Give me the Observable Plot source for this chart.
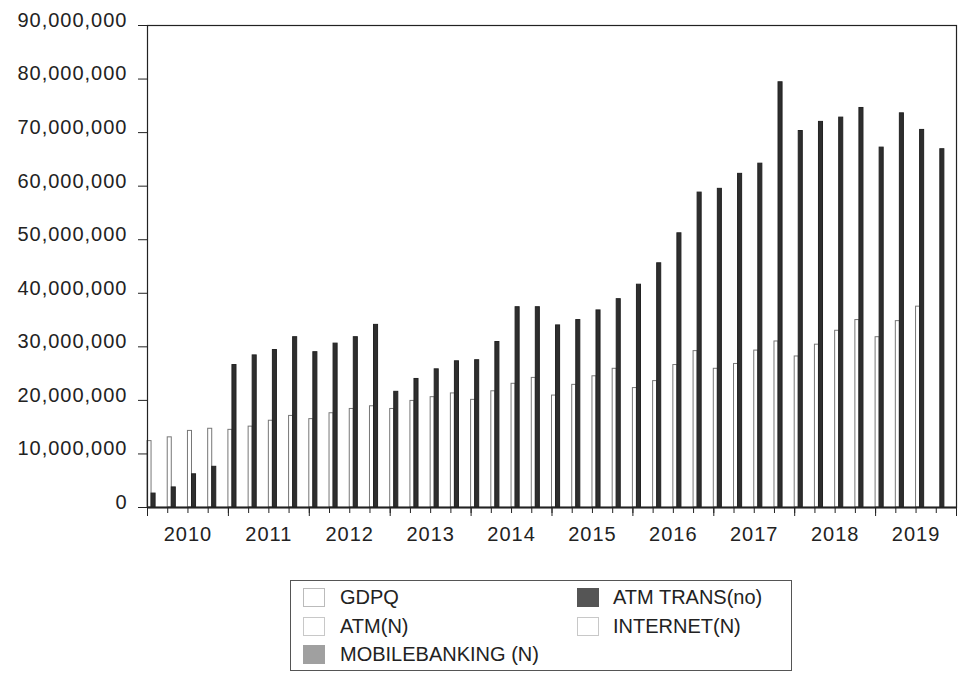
<!DOCTYPE html>
<html>
<head>
<meta charset="utf-8">
<script src="https://cdn.jsdelivr.net/npm/d3@7"></script>
<script src="https://cdn.jsdelivr.net/npm/@observablehq/plot@0.6"></script>
<style>
  html, body { margin: 0; padding: 0; background: #fff; }
  body { width: 960px; height: 678px; position: relative; overflow: hidden; font-family: "Liberation Sans", Arial, sans-serif; color: #222; }
  #chart { position: absolute; left: 0; top: 0; }
  #legend { position: absolute; left: 290px; top: 580px; width: 502px; height: 91px; border: 1px solid #555; box-sizing: border-box; }
  .item { position: absolute; font-size: 20px; line-height: 20px; white-space: nowrap; }
  .sw { position: absolute; width: 22px; height: 19px; box-sizing: border-box; }
</style>
</head>
<body>
<div id="chart"></div>
<div id="legend"></div>
<script>
// ---- data ----
const years = [2010, 2011, 2012, 2013, 2014, 2015, 2016, 2017, 2018, 2019];
const seriesNames = ["GDPQ", "ATM TRANS(no)", "ATM(N)", "INTERNET(N)", "MOBILEBANKING (N)"];
const gdpq = [
  12.4e6, 13.1e6, 14.3e6, 14.7e6,
  14.5e6, 15.1e6, 16.2e6, 17.1e6,
  16.5e6, 17.6e6, 18.4e6, 18.9e6,
  18.4e6, 19.9e6, 20.6e6, 21.3e6,
  20.1e6, 21.7e6, 23.1e6, 24.2e6,
  20.9e6, 22.9e6, 24.5e6, 25.9e6,
  22.3e6, 23.6e6, 26.6e6, 29.2e6,
  25.9e6, 26.8e6, 29.3e6, 31.0e6,
  28.2e6, 30.4e6, 33.0e6, 35.0e6,
  31.8e6, 34.8e6, 37.5e6, null
];
const atmTrans = [
  2.6e6, 3.75e6, 6.2e6, 7.6e6,
  26.6e6, 28.4e6, 29.4e6, 31.8e6,
  29.0e6, 30.6e6, 31.8e6, 34.1e6,
  21.6e6, 24.0e6, 25.8e6, 27.3e6,
  27.5e6, 30.9e6, 37.4e6, 37.4e6,
  34.0e6, 35.0e6, 36.8e6, 38.9e6,
  41.6e6, 45.6e6, 51.2e6, 58.8e6,
  59.5e6, 62.3e6, 64.2e6, 79.4e6,
  70.3e6, 72.0e6, 72.8e6, 74.6e6,
  67.2e6, 73.6e6, 70.5e6, 66.9e6
];
// the three count series are too small to be seen at this scale (read as ~0)
const atmN = [
  0,0,0,0, 0,0,0,0, 0,0,0,0, 0,0,0,0, 0,0,0,0,
  0,0,0,0, 0,0,0,0, 0,0,0,0, 0,0,0,0, 0,0,0,0
];
const internetN = [
  0,0,0,0, 0,0,0,0, 0,0,0,0, 0,0,0,0, 0,0,0,0,
  0,0,0,0, 0,0,0,0, 0,0,0,0, 0,0,0,0, 0,0,0,0
];
const mobileN = [
  0,0,0,0, 0,0,0,0, 0,0,0,0, 0,0,0,0, 0,0,0,0,
  0,0,0,0, 0,0,0,0, 0,0,0,0, 0,0,0,0, 0,0,0,0
];
const yTicks = [0, 10e6, 20e6, 30e6, 40e6, 50e6, 60e6, 70e6, 80e6, 90e6];
const seriesFill = ["#ffffff", "#2e2e2e", "#ffffff", "#ffffff", "#999999"];
const seriesStroke = ["#777777", "#222222", "#bbbbbb", "#bbbbbb", "#888888"];
const legendFill = ["#ffffff", "#555555", "#ffffff", "#ffffff", "#a0a0a0"];
const legendStroke = ["#bbbbbb", "#555555", "#c8c8c8", "#c8c8c8", "#a0a0a0"];

// ---- table ----
const seriesValues = [gdpq, atmTrans, atmN, internetN, mobileN];
const nQ = years.length * 4;
const rows = [];
seriesValues.forEach((arr, k) => arr.forEach((v, i) => {
  if (v != null && v > 0) rows.push({q: i, k, series: seriesNames[k], value: v});
}));

const barMarks = seriesNames.map((name, k) =>
  Plot.rectY(rows.filter(d => d.k === k), {
    x1: d => d.q + d.k / 5,
    x2: d => d.q + (d.k + 1) / 5,
    y1: 0,
    y2: "value",
    fill: seriesFill[k],
    stroke: seriesStroke[k],
    strokeWidth: 1
  })
);

const chart = Plot.plot({
  width: 960,
  height: 560,
  marginLeft: 147,
  marginRight: 4,
  marginTop: 25,
  marginBottom: 53,
  style: {fontFamily: "'Liberation Sans', Arial, sans-serif", fontSize: "20px", color: "#222", letterSpacing: "1px", background: "#fff"},
  x: {domain: [0, nQ]},
  y: {domain: [0, 90e6]},
  marks: [
    ...barMarks,
    Plot.frame({stroke: "#222", strokeWidth: 1.2}),
    Plot.ruleY([0], {stroke: "#222", strokeWidth: 2}),
    Plot.axisY({ticks: yTicks, tickSize: 9, tickFormat: () => "", label: null}),
    Plot.axisY({ticks: yTicks, tickSize: 0, tickPadding: 20, tickFormat: d3.format(","), dy: -5, label: null}),
    Plot.axisX({ticks: d3.range(0, nQ + 1), tickSize: 6, tickFormat: () => "", label: null}),
    Plot.axisX({ticks: d3.range(0, nQ + 1, 4), tickSize: 9, tickFormat: () => "", label: null}),
    Plot.axisX({ticks: years.map((y, i) => i * 4 + 2), tickSize: 0, tickPadding: 19, tickFormat: d => String(years[(d - 2) / 4]), label: null})
  ]
});
document.getElementById("chart").appendChild(chart);

// ---- legend ----
const legend = document.getElementById("legend");
const pos = [
  {col: 0, row: 0}, {col: 1, row: 0},
  {col: 0, row: 1}, {col: 1, row: 1},
  {col: 0, row: 2}
];
const rowTop = [6, 35, 63];
const swLeft = [12, 286];
const txtLeft = [49, 322];
seriesNames.forEach((name, k) => {
  const p = pos[k];
  const sw = document.createElement("div");
  sw.className = "sw";
  sw.style.left = swLeft[p.col] + "px";
  sw.style.top = (rowTop[p.row] + 1) + "px";
  sw.style.background = legendFill[k];
  sw.style.border = "1px solid " + legendStroke[k];
  legend.appendChild(sw);
  const t = document.createElement("div");
  t.className = "item";
  t.style.left = txtLeft[p.col] + "px";
  t.style.top = rowTop[p.row] + "px";
  t.textContent = name;
  legend.appendChild(t);
});
</script>
</body>
</html>
